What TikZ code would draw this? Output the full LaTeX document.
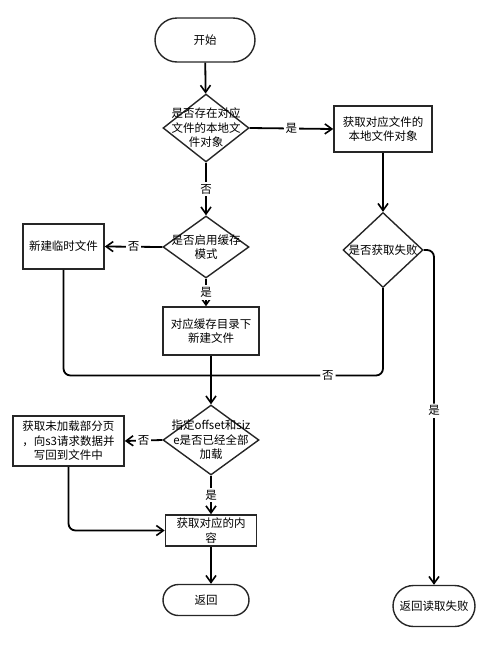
\documentclass[tikz,border=0pt]{standalone}
\usepackage{fontspec}
\setmainfont{Noto Sans CJK SC}
\usetikzlibrary{arrows.meta,shapes.geometric}
\begin{document}
\begin{tikzpicture}[x=1pt,y=-1pt,
  font=\fontsize{11.5}{14.5}\selectfont,
  every node/.style={inner sep=0pt},
  boxst/.style={draw=black!85, line width=1.6pt, rectangle, minimum width=#1},
  term/.style={draw=black!85, line width=1.4pt, rectangle},
  dia/.style={draw=black!85, line width=1.4pt, diamond},
  txt/.style={align=center},
  conn/.style={draw=black, line width=1.8pt, -{Straight Barb[length=7pt,width=10pt,line width=1.6pt]}},
  line/.style={draw=black, line width=1.8pt},
  lab/.style={fill=white, inner sep=2pt}]
\useasboundingbox (0,0) rectangle (494,646);
% terminals
\node[term, minimum width=100pt, minimum height=44pt, rounded corners=22pt] (start) at (205,40) {开始};
\node[term, minimum width=86pt, minimum height=31pt, rounded corners=15.5pt] (ret) at (206,600) {返回};
\node[term, minimum width=82pt, minimum height=41pt, rounded corners=20.5pt] (fail) at (434,606) {返回读取失败};
% diamonds
\node[dia, minimum width=86pt, minimum height=68pt] (d1) at (206,128) {};
\node[txt] (d1t) at (206,128) {是否存在对应\\文件的本地文\\件对象};
\node[dia, minimum width=86pt, minimum height=62pt] (d2) at (206,247) {};
\node[txt] (d2t) at (206,247) {是否启用缓存\\模式};
\node[dia, minimum width=80pt, minimum height=75pt] (d3) at (383,250) {};
\node[txt] (d3t) at (383,250) {是否获取失败};
\node[dia, minimum width=96pt, minimum height=70pt] (d4) at (211,440) {};
\node[txt] (d4t) at (211,440) {指定offset和siz\\e是否已经全部\\加载};
% boxes
\node[boxst=98pt, minimum height=46pt, txt] (b1) at (383,129) {获取对应文件的\\本地文件对象};
\node[boxst=81pt, minimum height=45pt, txt] (tmp) at (63.5,246.5) {新建临时文件};
\node[boxst=96pt, minimum height=48pt, txt] (cache) at (211,331) {对应缓存目录下\\新建文件};
\node[boxst=111pt, minimum height=50pt, txt] (load) at (68.5,441) {获取未加载部分页\\，向s3请求数据并\\写回到文件中};
\node[boxst=91pt, minimum height=31pt, txt] (content) at (211,530.5) {获取对应的内\\容};
\coordinate (merge) at (211,375.5);
% connectors
\draw[conn] (start) -- (d1);
\draw[conn] (d1.east) -- node[lab] {是} (b1.west);
\draw[conn] (d1.south) -- node[lab, pos=0.5] {否} (d2.north);
\draw[conn] (b1.south) -- (d3.north);
\draw[conn] (d2.west) -- node[lab] {否} (tmp.east);
\draw[conn] (d2.south) -- node[lab] {是} (d2.south |- cache.north);
\draw[line, rounded corners=7pt] (tmp.south) |- (merge);
\draw[line, rounded corners=7pt] (d3.south) |- node[lab, pos=0.66] {否} (merge);
\draw[conn] (cache.south) -- (d4.north);
\draw[conn, rounded corners=7pt] (d3.east) -| node[lab, pos=0.74] {是} (fail.north);
\draw[conn] (d4.west) -- node[lab] {否} (load.east);
\draw[conn] (d4.south) -- node[lab] {是} (content.north);
\draw[conn, rounded corners=7pt] (load.south) |- (content.west);
\draw[conn] (content.south) -- (content.south |- ret.north);
\end{tikzpicture}
\end{document}
